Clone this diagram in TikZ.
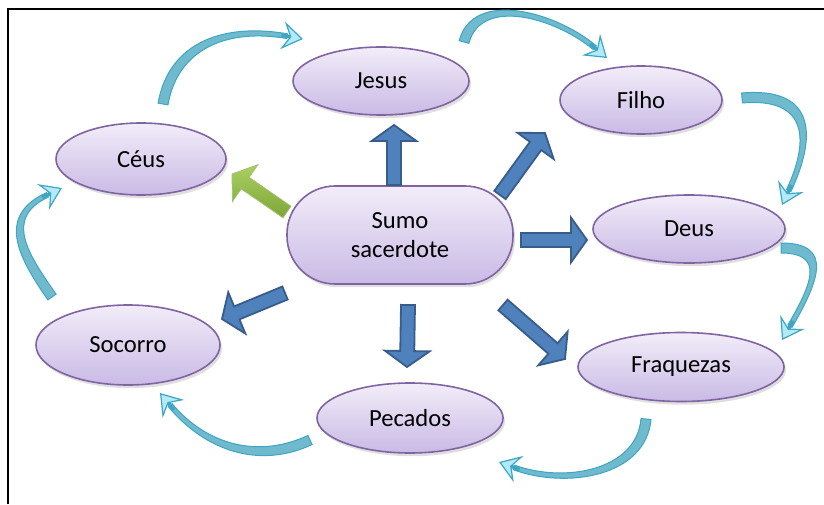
\documentclass[tikz,border=0pt]{standalone}
\usepackage{fontspec}
\setmainfont{Carlito}
\usetikzlibrary{shapes.geometric,arrows.meta,calc,shadows}

\definecolor{lavtop}{RGB}{242,237,249}
\definecolor{lavbot}{RGB}{201,186,229}
\definecolor{lavedge}{RGB}{128,100,162}
\definecolor{blueF}{RGB}{79,129,189}
\definecolor{blueD}{RGB}{56,93,138}
\definecolor{greenA}{RGB}{170,208,98}
\definecolor{greenB}{RGB}{125,165,55}
\definecolor{flowF}{RGB}{112,186,206}
\definecolor{flowD}{RGB}{62,166,196}
\definecolor{flowH}{RGB}{178,234,249}

% block arrow: [style]{tail}{tip}
\newcommand{\blockarrow}[3][bluearrow]{%
  \path (#2) coordinate (ba-a) (#3) coordinate (ba-b)
    ($(#3)!4mm!(#2)$) coordinate (ba-h);
  \path[#1] ($(ba-a)!1.75mm!90:(ba-b)$) -- ($(ba-h)!1.75mm!90:(ba-b)$)
    -- ($(ba-h)!5.6mm!90:(ba-b)$) -- (ba-b)
    -- ($(ba-h)!5.6mm!-90:(ba-b)$) -- ($(ba-h)!1.75mm!-90:(ba-b)$)
    -- ($(ba-a)!1.75mm!-90:(ba-b)$) -- cycle;
}
% curved ribbon arrow: [opts]{tail}{tip}{out}{in}
\newcommand{\flow}[5][]{%
  \path[flowbody,#1] ([shift={(#4+90:5)}]#2) to[out=#4,in=#5]
      ([shift={(#5:16)},shift={(#5-90:2.4)}]#3)
    -- ([shift={(#5:16)},shift={(#5+90:2.4)}]#3) to[out=#5,in=#4]
      ([shift={(#4-90:5)}]#2) -- cycle;
  \draw[flowhead] ([shift={(#5:22)}]#3) -- (#3);
}

\begin{document}
\begin{tikzpicture}[x=0.25mm, y=0.25mm, font=\fontsize{17.5}{20.5}\selectfont,
    bubble/.style={ellipse, draw=lavedge, line width=0.4mm, top color=lavtop, bottom color=lavbot, inner sep=0pt,
      drop shadow={shadow xshift=0.5mm, shadow yshift=-0.8mm, opacity=0.25}},
    bluearrow/.style={draw=blueD, fill=blueF, line width=0.45mm, line join=miter},
    greenarrow/.style={top color=greenA, bottom color=greenB, draw=greenB!70!white, line width=0.2mm},
    flowbody/.style={fill=flowF, draw=flowD, line width=0.25mm},
    flowhead/.style={draw=flowD, line width=0.9mm,
      -{Stealth[length=5.2mm, width=7mm, inset=1.9mm, fill=flowH, color=flowD, line width=0.3mm]}}]

    \useasboundingbox (0,0) rectangle (824,504);
    \draw[line width=0.5mm] (8,0) -- (8,495) -- (824,495);

    \node[bubble, rectangle, rounded corners=12mm, minimum width=56.5mm, minimum height=24.5mm, align=center] (sumo) at (400,269) {Sumo\\sacerdote};
    \node[bubble, minimum width=44mm, minimum height=17mm] (jesus) at (381,423) {Jesus};
    \node[bubble, minimum width=40.5mm, minimum height=17mm] (filho) at (641,404) {Filho};
    \node[bubble, minimum width=48mm, minimum height=17mm] (deus) at (689,275) {Deus};
    \node[bubble, minimum width=51.5mm, minimum height=17.25mm] (fraq) at (681,137) {Fraquezas};
    \node[bubble, minimum width=46.5mm, minimum height=17.5mm] (pecados) at (410,86) {Pecados};
    \node[bubble, minimum width=46mm, minimum height=20mm] (socorro) at (128,159) {Socorro};
    \node[bubble, minimum width=42.5mm, minimum height=18mm] (ceus) at (141,345) {Céus};

    % arrows out of the centre
    \coordinate (j-tail) at (394,319);  \coordinate (j-tip) at (394,379);
    \coordinate (fi-tail) at (500,309); \coordinate (fi-tip) at (545,371);
    \coordinate (d-tail) at (521,264);  \coordinate (d-tip) at (587,264);
    \coordinate (fr-tail) at (503,199); \coordinate (fr-tip) at (565,145);
    \coordinate (p-tail) at (408,199);  \coordinate (p-tip) at (407,137);
    \coordinate (s-tail) at (285,211);  \coordinate (s-tip) at (222,185);
    \coordinate (c-tail) at (287,292);  \coordinate (c-tip) at (232,330);

    \blockarrow{j-tail}{j-tip}
    \blockarrow{fi-tail}{fi-tip}
    \blockarrow{d-tail}{d-tip}
    \blockarrow{fr-tail}{fr-tip}
    \blockarrow{p-tail}{p-tip}
    \blockarrow{s-tail}{s-tip}
    \blockarrow[greenarrow]{c-tail}{c-tip}

    % ring of curved arrows
    \coordinate (ceus-out) at (163,400);   \coordinate (jesus-in) at (303,465);
    \coordinate (jesus-out) at (464,462);  \coordinate (filho-in) at (607,446);
    \coordinate (filho-out) at (742,406);  \coordinate (deus-in) at (782,299);
    \coordinate (deus-out) at (781,256);   \coordinate (fraq-in) at (782,164);
    \coordinate (fraq-out) at (646,85);    \coordinate (pecados-in) at (499,42);
    \coordinate (pecados-out) at (310,64); \coordinate (socorro-in) at (160,111);
    \coordinate (socorro-out) at (52,207); \coordinate (ceus-in) at (62,316);

    \flow[looseness=1.1]{ceus-out}{jesus-in}{80}{170}
    \flow{jesus-out}{filho-in}{75}{140}
    \flow[looseness=1.6]{filho-out}{deus-in}{5}{65}
    \flow[looseness=1.6]{deus-out}{fraq-in}{0}{60}
    \flow{fraq-out}{pecados-in}{-95}{-20}
    \flow{pecados-out}{socorro-in}{205}{-50}
    \flow[looseness=1.3]{socorro-out}{ceus-in}{125}{205}
\end{tikzpicture}
\end{document}
